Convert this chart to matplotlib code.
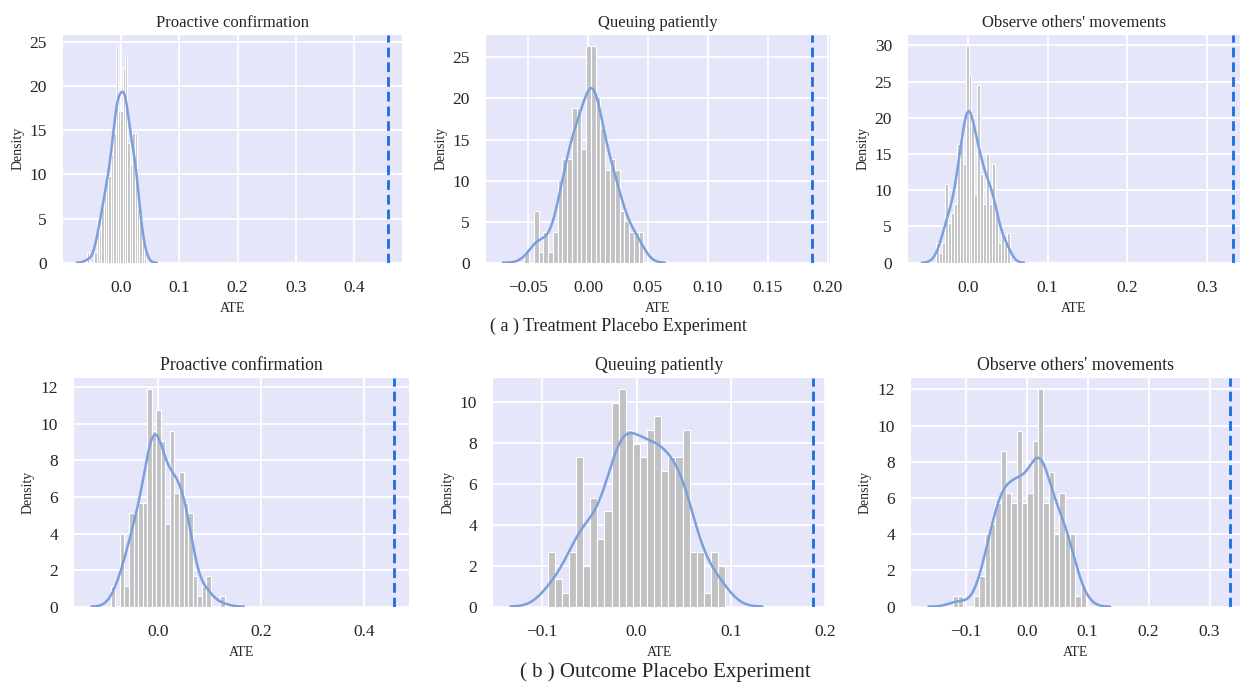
import numpy as np
import matplotlib
matplotlib.use("Agg")
import matplotlib.pyplot as plt
from matplotlib.ticker import MaxNLocator
import seaborn as sns

# ---------------- data ----------------
titles = ["Proactive confirmation", "Queuing patiently", "Observe others' movements"]
true_ate = [0.458, 0.187, 0.333]

# Treatment placebo experiment: histogram range and counts (25 bins, 200 runs)
treat_ranges = [(-0.0582, 0.0436), (-0.0532, 0.0462), (-0.0396, 0.0523)]
treat_counts = [
    [1, 0, 0, 1, 4, 3, 5, 7, 8, 8, 10, 12, 20, 14, 14, 18, 19, 11, 9, 12, 12, 5, 4, 2, 1],
    [1, 0, 5, 1, 3, 1, 3, 8, 10, 10, 15, 15, 11, 21, 21, 16, 13, 9, 10, 9, 5, 4, 3, 3, 3],
    [2, 1, 2, 8, 4, 5, 6, 12, 13, 10, 22, 19, 14, 7, 18, 9, 6, 11, 6, 10, 5, 2, 3, 2, 3],
]
treat_xlims = [(-0.0995, 0.482), (-0.0851, 0.202), (-0.0752, 0.3417)]

# Outcome placebo experiment
outcome_ranges = [(-0.091, 0.1295), (-0.0942, 0.0938), (-0.1213, 0.0972)]
outcome_counts = [
    [2, 0, 7, 2, 9, 9, 10, 10, 21, 17, 19, 16, 8, 17, 11, 13, 10, 9, 3, 1, 2, 3, 0, 0, 1],
    [4, 2, 1, 4, 11, 3, 8, 5, 7, 15, 16, 13, 12, 11, 13, 14, 10, 11, 11, 13, 4, 4, 1, 4, 3],
    [1, 1, 0, 0, 1, 3, 7, 8, 10, 15, 11, 10, 17, 10, 11, 16, 21, 10, 13, 7, 11, 7, 7, 1, 2],
]
outcome_xlims = [(-0.1623, 0.487), (-0.152, 0.2006), (-0.1897, 0.35)]

captions = ["( a ) Treatment Placebo Experiment", "( b ) Outcome Placebo Experiment"]

# ---------------- style ----------------
sns.set_style("darkgrid", {"axes.facecolor": "#E6E6FA", "grid.color": "white"})
plt.rcParams["font.family"] = ["Liberation Serif", "DejaVu Serif"]
plt.rcParams["xtick.labelsize"] = 12.5
plt.rcParams["ytick.labelsize"] = 12.5
plt.rcParams["axes.labelsize"] = 10
plt.rcParams["xtick.major.pad"] = 9
plt.rcParams["ytick.major.pad"] = 8
plt.rcParams["grid.linewidth"] = 1.3

BAR = "#c2c2c4"
KDE = "#7b9fdc"
VLINE = "#1a6fdf"

W, H = 1241, 682
fig = plt.figure(figsize=(W / 100, H / 100), dpi=100)
fig.patch.set_facecolor("white")


def box(left, right, top, bottom):
    return [left / W, 1 - bottom / H, (right - left) / W, (bottom - top) / H]


row_a = [box(63, 402, 35, 262.7), box(486, 830, 35, 262.7), box(908, 1240, 35, 262.7)]
row_b = [box(74, 409, 378.3, 606.6), box(493, 826, 378.3, 606.6), box(911, 1240, 378.3, 606.6)]


def draw(ax, rng, counts, ate, title, xlim, tsize):
    edges = np.linspace(rng[0], rng[1], len(counts) + 1)
    centers = (edges[:-1] + edges[1:]) / 2
    ax.hist(centers, bins=edges, weights=counts, density=True,
            color=BAR, edgecolor="white", linewidth=0.8, zorder=2)
    samples = np.repeat(centers, counts)
    sns.kdeplot(x=samples, ax=ax, color=KDE, lw=1.8, zorder=3)
    ax.axvline(ate, color=VLINE, ls="--", lw=2, dashes=(3.5, 1.8), zorder=4)
    ax.set_xlim(*xlim)
    ax.yaxis.set_major_locator(MaxNLocator(nbins=7, steps=[1, 2, 5, 10], integer=True))
    ax.set_title(title, fontsize=tsize)
    ax.set_xlabel("ATE")
    ax.set_ylabel("Density")
    for s in ax.spines.values():
        s.set_visible(False)


for i in range(3):
    ax = fig.add_axes(row_a[i])
    draw(ax, treat_ranges[i], treat_counts[i], true_ate[i], titles[i], treat_xlims[i], 12)
    ax = fig.add_axes(row_b[i])
    draw(ax, outcome_ranges[i], outcome_counts[i], true_ate[i], titles[i], outcome_xlims[i], 12.8)

fig.text(618 / W, 1 - 326 / H, captions[0], ha="center", va="center", fontsize=13)
fig.text(665 / W, 1 - 672 / H, captions[1], ha="center", va="center", fontsize=15)

fig.savefig("out.png", dpi=100, facecolor="white")
